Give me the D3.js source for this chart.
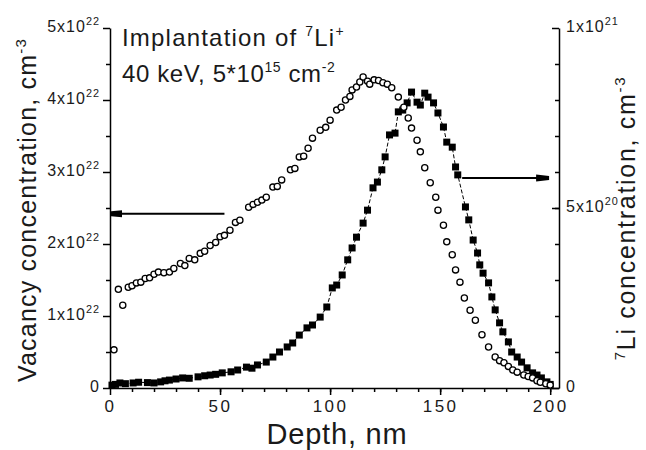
<!DOCTYPE html>
<html>
<head>
<meta charset="utf-8">
<script src="https://cdn.jsdelivr.net/npm/d3@7"></script>
<style>
  body { margin: 0; background: #fff; }
  svg { font-family: "Liberation Sans", Arial, sans-serif; }
</style>
</head>
<body>
<script>
// vacancy concentration, units of 1e22 cm^-3
var vacDepth = [1.8, 3.8, 5.8, 8.3, 10, 12, 14, 16, 18, 20, 22, 24.5, 27, 29, 32, 34, 36, 38.5, 41, 43, 45.5, 48, 50, 52, 54.5, 57, 59, 63, 65, 67, 69, 71, 74, 76, 78, 82, 84, 86, 88, 90, 92, 95.5, 98, 100, 103, 105, 107, 109, 110, 112, 113.5, 115, 117, 118, 120, 122, 124, 126, 128, 131, 133.5, 135.5, 137, 139.5, 141, 143, 145.5, 148, 149, 151.5, 153, 155.5, 157, 159, 161, 163.6, 166, 169, 172, 175, 177, 179, 181, 183, 185, 188, 190, 192, 194, 195.5, 198, 200];
var vacValue = [0.53, 1.37, 1.15, 1.40, 1.42, 1.46, 1.47, 1.52, 1.53, 1.58, 1.61, 1.60, 1.61, 1.66, 1.73, 1.70, 1.80, 1.78, 1.87, 1.90, 1.98, 2.02, 2.10, 2.12, 2.19, 2.30, 2.33, 2.51, 2.55, 2.58, 2.61, 2.65, 2.79, 2.80, 2.89, 3.03, 3.05, 3.21, 3.22, 3.33, 3.47, 3.58, 3.62, 3.72, 3.86, 3.90, 4.00, 4.05, 4.14, 4.18, 4.25, 4.32, 4.26, 4.22, 4.28, 4.27, 4.24, 4.22, 4.17, 4.04, 3.90, 3.75, 3.61, 3.44, 3.28, 3.06, 2.85, 2.65, 2.47, 2.26, 2.03, 1.85, 1.64, 1.47, 1.25, 1.08, 0.94, 0.74, 0.57, 0.43, 0.38, 0.35, 0.30, 0.25, 0.22, 0.18, 0.16, 0.14, 0.10, 0.08, 0.06, 0.04];

// 7Li concentration, units of 1e20 cm^-3
var liDepth = [0.9, 2.5, 4.5, 7, 10.5, 13, 17, 20, 23, 25, 27, 30, 33, 36, 40, 43, 45.5, 48, 51, 55, 58, 62, 64.5, 67, 71, 74, 77, 80.5, 83, 86, 89.5, 92, 95.5, 98.5, 101, 103, 105.5, 108, 110, 112, 115, 117, 119.5, 121.5, 123.5, 125, 127, 129.5, 131, 133, 135, 137, 139.5, 141, 143, 144.5, 147, 149, 151.5, 153, 155.5, 157, 158, 161.5, 163, 165, 167, 168, 169.5, 172, 173.5, 175, 177, 178.5, 181, 182.5, 185, 187, 189.5, 192, 194, 196, 198.5, 200];
var liValue = [0.08, 0.10, 0.14, 0.12, 0.14, 0.16, 0.15, 0.14, 0.17, 0.20, 0.22, 0.25, 0.28, 0.27, 0.31, 0.34, 0.36, 0.38, 0.42, 0.45, 0.50, 0.58, 0.55, 0.64, 0.72, 0.86, 1.00, 1.14, 1.25, 1.47, 1.67, 1.75, 1.97, 2.25, 2.78, 2.86, 3.14, 3.56, 3.89, 4.19, 4.58, 4.94, 5.56, 5.72, 6.06, 6.42, 7.03, 7.08, 7.67, 7.72, 7.92, 8.22, 7.94, 7.86, 8.19, 8.08, 7.92, 7.64, 7.25, 6.83, 6.69, 6.14, 5.92, 5.03, 4.67, 4.11, 3.75, 3.42, 3.19, 2.92, 2.53, 2.17, 1.81, 1.56, 1.28, 1.00, 0.86, 0.72, 0.56, 0.42, 0.36, 0.28, 0.17, 0.10];

var depthTicks = [0, 50, 100, 150, 200];
var vacTicks = [0, 1, 2, 3, 4, 5];
var vacTickLabels = [["0"], ["1x10", "22"], ["2x10", "22"], ["3x10", "22"], ["4x10", "22"], ["5x10", "22"]];
var liTicks = [0, 5, 10];
var liTickLabels = [["0"], ["5x10", "20"], ["1x10", "21"]];

var width = 646, height = 450;
var ink = "#1a1a1a";
var svg = d3.select("body").append("svg")
	.attr("width", width)
	.attr("height", height);

var x = d3.scaleLinear().domain([0, 204]).range([110, 559]);
var yL = d3.scaleLinear().domain([0, 5]).range([388, 28]);
var yR = d3.scaleLinear().domain([0, 10]).range([388, 28]);

function sciText(sel, parts) {
	sel.text(null);
	sel.append("tspan").text(parts[0]);
	if (parts[1]) {
		sel.append("tspan")
			.attr("dy", "-0.6em")
			.attr("font-size", "0.68em")
			.text(parts[1]);
	}
}

// minor ticks
svg.append("g")
	.attr("transform", "translate(0,388)")
	.call(d3.axisBottom(x).tickValues(d3.range(10, 201, 10)).tickSize(4).tickSizeOuter(0).tickFormat(""))
	.call(function(g) { g.select(".domain").remove(); });
svg.append("g")
	.attr("transform", "translate(110,0)")
	.call(d3.axisLeft(yL).tickValues(d3.range(0.5, 5, 1)).tickSize(4).tickSizeOuter(0).tickFormat(""))
	.call(function(g) { g.select(".domain").remove(); });
svg.append("g")
	.attr("transform", "translate(559,0)")
	.call(d3.axisRight(yR).tickValues(d3.range(1, 10, 1)).tickSize(-4).tickSizeOuter(0).tickFormat(""))
	.call(function(g) { g.select(".domain").remove(); });

// major axes
var xAxis = svg.append("g")
	.attr("transform", "translate(0,388)")
	.call(d3.axisBottom(x).tickValues(depthTicks).tickSize(7).tickSizeOuter(0).tickPadding(3));
xAxis.selectAll("text").attr("font-size", 17).attr("letter-spacing", 2.5).attr("dy", "0.85em");

var lAxis = svg.append("g")
	.attr("transform", "translate(110,0)")
	.call(d3.axisLeft(yL).tickValues(vacTicks).tickSize(7).tickSizeOuter(0).tickPadding(3));
lAxis.selectAll(".tick text")
	.attr("font-size", 16)
	.attr("letter-spacing", 1)
	.attr("dy", "0.2em")
	.each(function(d, i) { sciText(d3.select(this), vacTickLabels[i]); });

var rAxis = svg.append("g")
	.attr("transform", "translate(559,0)")
	.call(d3.axisRight(yR).tickValues(liTicks).tickSize(-7).tickSizeOuter(0).tickPadding(7));
rAxis.selectAll(".tick text")
	.attr("font-size", 16)
	.attr("letter-spacing", 1)
	.attr("dy", "0.2em")
	.each(function(d, i) { sciText(d3.select(this), liTickLabels[i]); });

svg.selectAll(".domain, .tick line").attr("stroke", "#000").attr("stroke-width", 1.5);
svg.selectAll(".tick text").attr("fill", ink).attr("font-family", "'Liberation Sans', Arial, sans-serif");

// Li profile: dashed line + filled squares
var liData = liDepth.map(function(d, i) { return {d: d, v: liValue[i]}; });
svg.append("path")
	.datum(liData)
	.attr("fill", "none")
	.attr("stroke", "#000")
	.attr("stroke-width", 1)
	.attr("stroke-dasharray", "4,2")
	.attr("d", d3.line().x(function(p) { return x(p.d); }).y(function(p) { return yR(p.v); }));
svg.append("g").selectAll("rect")
	.data(liData)
	.enter().append("rect")
	.attr("x", function(p) { return x(p.d) - 3.5; })
	.attr("y", function(p) { return yR(p.v) - 3.5; })
	.attr("width", 7)
	.attr("height", 7)
	.attr("fill", "#000");

// vacancy profile: open circles
var vacData = vacDepth.map(function(d, i) { return {d: d, v: vacValue[i]}; });
svg.append("g").selectAll("circle")
	.data(vacData)
	.enter().append("circle")
	.attr("cx", function(p) { return x(p.d); })
	.attr("cy", function(p) { return yL(p.v); })
	.attr("r", 3.1)
	.attr("fill", "#fff")
	.attr("stroke", "#000")
	.attr("stroke-width", 1.3);

// arrows
var ly = yL(2.42);
svg.append("line")
	.attr("x1", x(4)).attr("x2", x(52))
	.attr("y1", ly).attr("y2", ly)
	.attr("stroke", "#000").attr("stroke-width", 2);
svg.append("path")
	.attr("d", "M" + (x(0) + 1) + "," + (ly - 2.5) + "l11,-1l0,7l-11,-1z")
	.attr("fill", "#000");

var ry = yR(5.83);
svg.append("line")
	.attr("x1", x(160)).attr("x2", x(194))
	.attr("y1", ry).attr("y2", ry)
	.attr("stroke", "#000").attr("stroke-width", 2);
svg.append("path")
	.attr("d", "M" + x(199.5) + "," + (ry - 2) + "l-13,-1.5l0,7l13,-1.5z")
	.attr("fill", "#000");

// annotation
var ann1 = svg.append("text").attr("x", 122).attr("y", 46).attr("font-size", 24).attr("letter-spacing", 1.2).attr("fill", ink);
ann1.append("tspan").text("Implantation of ");
ann1.append("tspan").attr("font-size", 14).attr("dy", -10).text("7");
ann1.append("tspan").attr("dy", 10).text("Li");
ann1.append("tspan").attr("font-size", 14).attr("dy", -10).text("+");

var ann2 = svg.append("text").attr("x", 122).attr("y", 82).attr("font-size", 24).attr("letter-spacing", 0.6).attr("fill", ink);
ann2.append("tspan").text("40 keV, 5*10");
ann2.append("tspan").attr("font-size", 14).attr("dy", -10).text("15");
ann2.append("tspan").attr("dy", 10).text(" cm");
ann2.append("tspan").attr("font-size", 14).attr("dy", -10).text("-2");

// axis titles
svg.append("text")
	.attr("x", 337).attr("y", 444)
	.attr("text-anchor", "middle")
	.attr("font-size", 29)
	.attr("letter-spacing", 0.8)
	.attr("fill", ink)
	.text("Depth, nm");

var lt = svg.append("text")
	.attr("transform", "translate(36,210) rotate(-90)")
	.attr("text-anchor", "middle")
	.attr("font-size", 25)
	.attr("letter-spacing", 1.2)
	.attr("fill", ink);
lt.append("tspan").text("Vacancy concentration, cm");
lt.append("tspan").attr("font-size", 15).attr("dy", -10).text("-3");

var rt = svg.append("text")
	.attr("transform", "translate(635,218) rotate(-90)")
	.attr("text-anchor", "middle")
	.attr("font-size", 25)
	.attr("letter-spacing", 1.7)
	.attr("fill", ink);
rt.append("tspan").attr("font-size", 15).attr("dy", -10).text("7");
rt.append("tspan").attr("dy", 10).text("Li concentration, cm");
rt.append("tspan").attr("font-size", 15).attr("dy", -10).text("-3");
</script>
</body>
</html>
